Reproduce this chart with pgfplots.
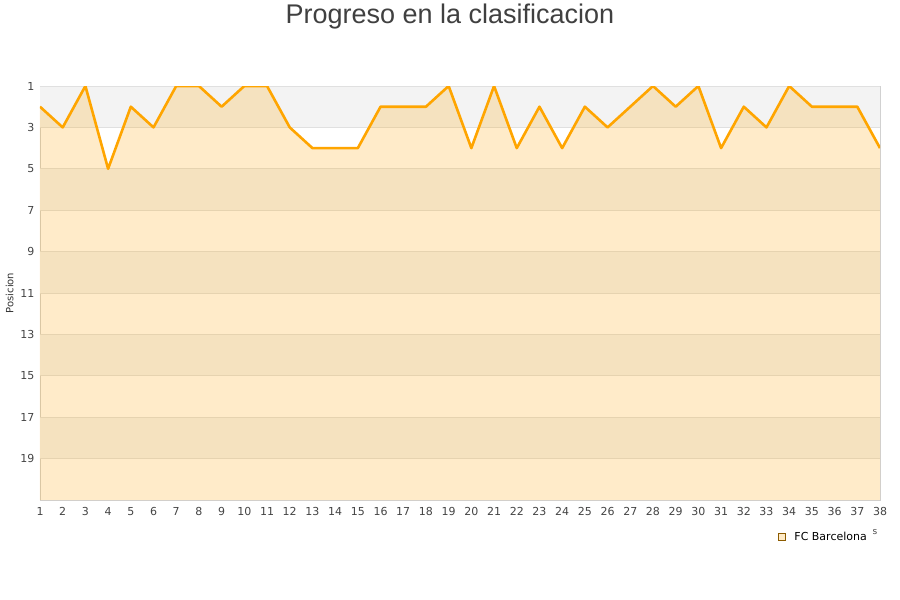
\documentclass[border=0pt]{standalone}
\usepackage{pgfplots}
\pgfplotsset{compat=1.18}
\usepackage{fontspec}
\setmainfont{DejaVu Sans}
\newfontfamily\titlefont{Liberation Sans}

\definecolor{lineorange}{HTML}{FFA500}
\definecolor{bandgray}{HTML}{F3F3F3}
\definecolor{ticktext}{HTML}{444444}

\pgfplotstableread{
j pos
1 2
2 3
3 1
4 5
5 2
6 3
7 1
8 1
9 2
10 1
11 1
12 3
13 4
14 4
15 4
16 2
17 2
18 2
19 1
20 4
21 1
22 4
23 2
24 4
25 2
26 3
27 2
28 1
29 2
30 1
31 4
32 2
33 3
34 1
35 2
36 2
37 2
38 4
}\barca

\begin{document}
\begin{tikzpicture}
\path[use as bounding box, fill=white] (0pt,0pt) rectangle (900pt,600pt);
\node[anchor=north, font=\titlefont\fontsize{27}{30}\selectfont, text=black!75] at (450pt,600pt) {Progreso en la clasificacion};
\begin{axis}[
  at={(40pt,100pt)}, anchor=south west,
  scale only axis, width=840pt, height=414pt,
  xmin=1, xmax=38, ymin=1, ymax=21,
  y dir=reverse,
  xtick={1,...,38}, ytick={1,3,...,19},
  axis line style={draw=black!18, line width=0.8pt},
  major tick length=0pt,
  tick label style={font=\fontsize{11}{13}\selectfont, text=ticktext},
  /pgf/number format/assume math mode=true,
  xticklabel style={yshift=-4pt},
  yticklabel style={xshift=-2pt},
  ylabel={Posicion},
  ylabel style={font=\fontsize{10}{12}\selectfont, text=black!80},
  legend style={at={(0.9905,-0.0894)}, anchor=east, draw=none, fill=none,
    font=\fontsize{11}{13}\selectfont, legend cell align=left,
    /tikz/every odd column/.append style={column sep=7pt}},
]
\addplot[draw=none, forget plot] coordinates {(1,1) (38,21)};
\fill[bandgray] (axis cs:1,1) rectangle (axis cs:38,3);
\fill[bandgray] (axis cs:1,5) rectangle (axis cs:38,7);
\fill[bandgray] (axis cs:1,9) rectangle (axis cs:38,11);
\fill[bandgray] (axis cs:1,13) rectangle (axis cs:38,15);
\fill[bandgray] (axis cs:1,17) rectangle (axis cs:38,19);
\draw[black!12, line width=0.8pt] (axis cs:1,1) -- (axis cs:38,1)
  (axis cs:1,3) -- (axis cs:38,3) (axis cs:1,5) -- (axis cs:38,5)
  (axis cs:1,7) -- (axis cs:38,7) (axis cs:1,9) -- (axis cs:38,9)
  (axis cs:1,11) -- (axis cs:38,11) (axis cs:1,13) -- (axis cs:38,13)
  (axis cs:1,15) -- (axis cs:38,15) (axis cs:1,17) -- (axis cs:38,17)
  (axis cs:1,19) -- (axis cs:38,19);
\addplot[fill=lineorange, fill opacity=0.21, draw=none, forget plot]
  table[x=j, y=pos] {\barca} |- (axis cs:1,21) -- cycle;
\addplot[lineorange, line width=2.6pt, line join=round, forget plot] table[x=j, y=pos] {\barca};
\addlegendimage{legend image code/.code={\draw[fill=lineorange!22, draw=black!45!lineorange, line width=0.6pt] (0pt,-3.5pt) rectangle (7pt,3.5pt);}}
\addlegendentry{FC Barcelona}
\end{axis}
\node[font=\fontsize{9}{10}\selectfont, text=black!70] at (875pt,68pt) {s};
\end{tikzpicture}
\end{document}
